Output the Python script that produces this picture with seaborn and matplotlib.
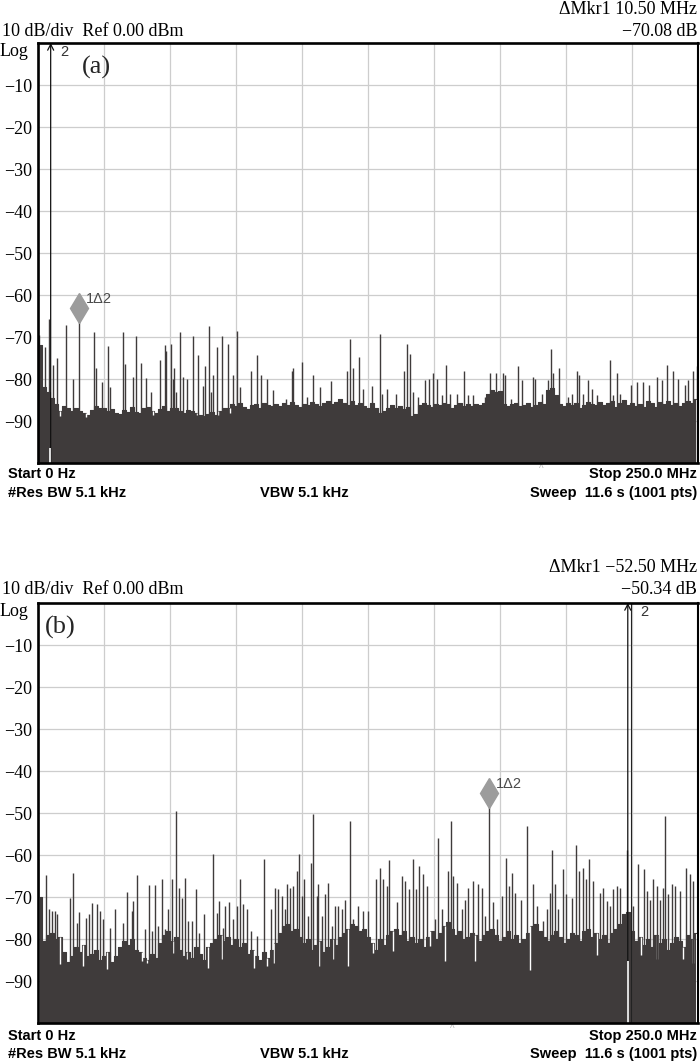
import numpy as np
import matplotlib
matplotlib.use("Agg")
import matplotlib.pyplot as plt
import seaborn as sns

# --- figure geometry (pixels of the 700x1061 output) ---
W, H = 700, 1061
SPAN_MHZ = 250.0
N_BINS = 165
BIN_W = SPAN_MHZ / N_BINS

TRACE = "#3f3b3b"
GRID = "#cdcdcd"
MARK = "#9c9c9c"

# ---------------- panel (a) data ----------------
floor_a = [
    -72, -82, -83, -84.5, -86, -87.5, -86.5, -87, -87.5, -86.8,
    -87.5, -88.2, -88.6, -87.3, -86.5, -87, -86.8, -87.6, -87.2, -88,
    -88.3, -87.4, -87.8, -86.6, -87.9, -88.2, -87, -86.7, -87.5, -88.1,
    -87.2, -86.5, -87.6, -87, -86.8, -87.5, -88, -87.3, -87.6, -88.2,
    -88.6, -88.9, -88.4, -87.8, -88.5, -87.5, -87, -86.8, -86, -86.5,
    -85.8, -86.6, -87.2, -86.3, -86, -86.8, -85.7, -86.2, -86.5, -85.9,
    -86.4, -85.8, -86.2, -85.5, -86.1, -86.6, -85.9, -86.3, -85.4, -86,
    -86.5, -85.7, -85.2, -86, -85.5, -84.8, -85.6, -86.1, -85.3, -86.2,
    -85.8, -86.5, -86.9, -85.7, -86.8, -88, -87.6, -86.8, -86.2, -87,
    -86.4, -87.1, -86.7, -88.9, -88.4, -86.3, -85.8, -86.2, -86.6, -85.9,
    -86.3, -85.6, -86, -86.8, -86.1, -85.7, -86.4, -85.9, -86.5, -86,
    -86.2, -85.8, -83.6, -82.5, -83.2, -82.8, -85.9, -86.4, -86, -85.7,
    -86.5, -86.1, -85.8, -86.6, -86.2, -85.5, -86, -82.6, -82.2, -83.8,
    -85.9, -86.4, -85.7, -86.3, -85.6, -86.9, -86.1, -85.4, -85.9, -86.2,
    -85.5, -86.3, -85.8, -85.2, -86.6, -85.7, -85.1, -86.2, -85.6, -86.4,
    -85.9, -86.6, -85.3, -85.8, -86.7, -85.4, -86, -85.2, -86.3, -85.7,
    -86.5, -85.8, -85.2, -85.6, -84.8,
]
spur_f_a = [
    0.3, 1.2, 2.65, 4.3, 5.6, 7.2, 10.5, 13.4, 15.6, 21.3, 22.0, 24.4, 26.6, 27.3,
    32.1, 33.1, 35.9, 37.0, 39.1, 40.8, 42.7, 46.1, 48.1, 48.5, 50.4, 51.0, 51.5,
    52.2, 53.8, 55.0, 56.3, 58.6, 60.7, 62.5, 63.4, 64.6, 65.4, 66.4, 67.8, 69.6,
    71.8, 74.0, 75.4, 76.5, 80.6, 82.8, 84.5, 86.6, 89.1, 93.8, 96.1, 96.7, 100.1,
    101.8, 104.3, 106.8, 111.0, 116.9, 118.2, 119.2, 121.6, 123.2, 126.5, 129.5,
    130.4, 132.1, 135.5, 138.8, 139.9, 141.0, 142.2, 144.1, 146.6, 148.2, 149.5,
    151.3, 152.9, 154.7, 156.1, 158.8, 161.5, 163.0, 164.9, 169.3, 171.2, 173.4,
    176.0, 176.9, 179.2, 181.9, 183.2, 187.4, 188.3, 190.8, 193.1, 194.2, 195.2,
    197.5, 200.6, 202.4, 204.0, 205.0, 206.6, 208.5, 209.7, 211.9, 216.7, 217.9,
    219.2, 220.5, 224.5, 226.8, 229.3, 231.6, 234.4, 236.5, 238.1, 240.4, 242.5,
    245.1, 246.3, 248.2, 249.5,
]
spur_db_a = [
    -69.5, -73.5, -72.4, -65.7, -76.6, -75, -67.2, -80, -65.9, -68.7, -77.4, -80.7,
    -72.2, -82, -68.9, -76.5, -79.5, -69.8, -76.2, -79.7, -83, -75.4, -71.9, -73.4,
    -71.6, -80, -77.4, -83, -68.9, -79.6, -80.1, -69.8, -74.4, -81.7, -77, -67.4,
    -83, -79, -72.4, -69.8, -71.6, -79, -68.5, -82, -78.2, -74.2, -79, -79.9,
    -82.7, -84.7, -78.2, -77.4, -76, -84.3, -79, -82, -80.4, -78.2, -70.5, -77.3,
    -74.8, -82.3, -81.7, -69.2, -83.5, -82.3, -83.5, -78.2, -71.6, -74, -83,
    -84.3, -80.3, -79.9, -78.5, -79.9, -83.9, -76.6, -83.5, -83.5, -78, -83.9,
    -83.9, -84.3, -78.6, -78.5, -78.5, -79, -84.7, -76.8, -80.3, -79.6, -80,
    -83.5, -80.3, -72.8, -78.6, -77.3, -84.3, -83.5, -78, -79, -83.5, -80.3,
    -82.3, -83.9, -75.4, -83.9, -78.6, -83.5, -81.5, -80.7, -80.7, -81.5, -79.6,
    -80.3, -76.6, -78, -79.9, -81.5, -80.3, -78.2, -76.8,
]
dip_f_a = [8.3, 18.1, 43.6, 60.1, 68.2, 72.7]
dip_db_a = [-88.8, -89.0, -88.6, -88.6, -88.6, -88.2]
carrier_f_a = [4.8]
notch_f_a = [4.5]
notch_db_a = [-96.5]
mkr1_f_a, mkr1_db_a = 15.6, -63.2
caret_f_a = 190.5

# ---------------- panel (b) data ----------------
floor_b = [
    -70, -80.5, -79, -78.5, -80, -79.5, -83, -85.5, -84, -82,
    -83, -81.5, -84, -83.5, -82.5, -85, -84, -83, -85.5, -84,
    -82, -80.5, -81.5, -80, -82.5, -83, -84.5, -85, -83.5, -84.5,
    -81, -79, -78, -80.5, -79.5, -82.5, -84, -83, -84.5, -82,
    -83.5, -85, -82, -81, -80, -79, -80.5, -79.5, -81.5, -80,
    -82, -81, -83.5, -82.5, -84, -85, -83, -84.5, -82.5, -81,
    -78.5, -77, -76.5, -78, -77.5, -79.5, -81, -80, -82.5, -81.5,
    -80.5, -83, -82, -80, -81.5, -79.5, -78.5, -77.5, -76.5, -77,
    -78, -77.5, -79.5, -81, -82.5, -80, -81.5, -79, -78, -77.5,
    -79, -78, -80.5, -79.5, -81, -80, -82, -79.5, -78, -80,
    -78.5, -77, -76, -77.5, -79, -78, -80, -79.5, -78.5, -79,
    -80.5, -79, -78, -77.5, -79, -80.5, -79.5, -78, -80, -79,
    -81, -80, -78.5, -77, -76.5, -78, -79.5, -80.5, -79, -78,
    -79.5, -81, -80, -78.5, -79, -80.5, -78, -77.5, -79.5, -78.5,
    -80, -79, -81, -78.5, -77.5, -76.5, -74, -73.5, -78, -80.5,
    -79.5, -81.5, -80, -82, -79, -81, -80, -82.5, -81, -79.5,
    -80.5, -82, -79, -80, -78.5,
]
spur_f_b = [
    0.1, 1.0, 2.9, 4.3, 5.2, 6.4, 7.3, 12.1, 13.4, 14.6, 15.7, 18.2, 19.3, 20.3,
    22.2, 23.5, 24.7, 27.3, 29.2, 32.3, 33.6, 35.5, 36.1, 37.4, 40.5, 42.0, 43.1,
    44.3, 45.6, 46.8, 48.1, 49.4, 50.6, 52.2, 53.4, 54.7, 55.7, 56.9, 58.2, 59.8,
    61.0, 62.9, 66.2, 67.7, 68.7, 70.0, 70.9, 72.5, 74.0, 75.3, 76.5, 77.8, 79.3,
    80.6, 82.8, 85.6, 88.1, 89.8, 91.0, 92.3, 93.6, 94.4, 95.5, 96.7, 98.0, 99.0,
    99.9, 100.8, 102.4, 103.3, 104.3, 105.6, 106.2, 107.5, 108.7, 110.0, 111.2,
    112.5, 113.7, 115.0, 116.3, 118.2, 119.4, 121.3, 123.2, 125.1, 128.0, 129.5,
    130.8, 132.1, 133.1, 135.9, 137.8, 139.0, 140.7, 141.9, 143.2, 144.4, 145.7,
    147.2, 150.4, 151.6, 152.9, 155.4, 156.4, 157.3, 158.6, 160.5, 161.7, 163.0,
    164.6, 166.8, 168.1, 169.3, 171.0, 172.2, 173.8, 175.6, 177.3, 178.5, 179.7,
    180.7, 182.8, 185.1, 187.6, 188.9, 191.4, 192.7, 193.9, 194.8, 195.8, 197.1,
    198.8, 200.0, 202.2, 203.8, 205.0, 206.3, 207.6, 208.8, 210.1, 212.9, 214.1,
    215.4, 216.7, 217.9, 219.2, 220.5, 223.0, 225.5, 227.4, 229.5, 230.6, 231.8,
    233.1, 234.4, 235.6, 236.6, 237.6, 238.8, 240.0, 241.3, 243.2, 245.5, 247.0,
    248.2,
]
spur_db_b = [
    -61.0, -71.2, -64.8, -72.9, -73.3, -73.3, -74.1, -70.2, -64.4, -76.1, -73.6,
    -74.9, -74.1, -71.5, -71.7, -73.3, -75.3, -77.3, -72.9, -76.1, -68.8, -73.3,
    -71.0, -64.8, -77.7, -67.2, -78.1, -67.2, -76.9, -65.8, -77.7, -72.9, -65.8,
    -49.5, -67.8, -70.2, -65.4, -75.7, -75.7, -68.0, -78.5, -74.1, -59.8, -73.7,
    -71.0, -77.3, -72.1, -71.3, -75.3, -72.1, -65.8, -71.7, -72.9, -78.1, -79.3,
    -61.0, -72.9, -67.8, -68.2, -69.8, -72.9, -67.0, -67.8, -67.4, -63.8, -59.8,
    -69.8, -65.8, -74.5, -62.0, -50.3, -69.8, -67.0, -74.5, -69.4, -66.6, -76.9,
    -72.1, -72.1, -72.9, -70.6, -51.9, -75.3, -72.1, -73.3, -73.3, -65.8, -63.0,
    -65.8, -67.4, -61.2, -71.3, -65.0, -66.2, -68.2, -61.0, -68.2, -62.5, -64.6,
    -67.4, -75.3, -55.9, -72.9, -63.8, -51.9, -65.0, -66.6, -72.9, -70.6, -67.8,
    -66.2, -67.0, -67.8, -74.5, -48.3, -71.3, -75.3, -69.8, -60.6, -67.4, -64.2,
    -69.0, -70.6, -53.1, -67.0, -72.1, -75.7, -72.9, -69.0, -58.8, -67.0, -72.9,
    -63.4, -69.4, -70.2, -57.5, -63.8, -63.0, -65.8, -61.0, -66.2, -69.0, -67.8,
    -71.0, -72.1, -68.2, -67.4, -67.8, -58.7, -72.1, -62.2, -63.4, -68.6, -70.6,
    -65.8, -67.4, -70.6, -67.8, -50.7, -69.4, -67.0, -67.4, -68.6, -63.0, -64.6,
    -66.2,
]
dip_f_b = [
    8.3, 17.2, 26.0, 39.3, 41.2, 51.3, 56.3, 64.5, 69.6, 81.8, 86.6, 89.4, 106.4,
    111.9, 117.5, 127.0, 134.6, 148.5, 154.2, 165.5, 186.4, 211.6, 228.4, 234.4,
    244.4, 248.2,
]
dip_db_b = [
    -86.0, -86.4, -87.2, -85.2, -85.6, -83.3, -84.8, -86.8, -84.8, -86.8, -86.4,
    -85.6, -86.4, -84.8, -86.4, -83.3, -82.9, -81.7, -85.2, -85.2, -87.4, -83.7,
    -83.7, -84.8, -84.8, -85.6,
]
carrier_f_b = [223.4, 224.5]
notch_f_b = [223.4]
notch_db_b = [-85.2]
mkr1_f_b, mkr1_db_b = 171.0, -45.2
caret_f_b = 156.8

assert len(floor_a) == N_BINS and len(floor_b) == N_BINS
assert len(spur_f_a) == len(spur_db_a) and len(spur_f_b) == len(spur_db_b)
assert len(dip_f_a) == len(dip_db_a) and len(dip_f_b) == len(dip_db_b)

# ---------------- style ----------------
sns.set_theme(style="white")
SERIF = ["Liberation Serif", "DejaVu Serif"]
SANS = ["Liberation Sans", "DejaVu Sans"]
plt.rcParams["font.family"] = SERIF

fig = plt.figure(figsize=(W / 100, H / 100), dpi=100)


def px_box(left, top, right, bottom):
    return [left / W, 1 - bottom / H, (right - left) / W, (bottom - top) / H]


def ftext(x, y, s, **kw):
    # place text using pixel coordinates of the output picture
    fig.text(x / W, 1 - y / H, s, **kw)


def draw_panel(ax, floor, spur_f, spur_db, dip_f, dip_db, carrier_f,
               notch_f, notch_db, mkr_f, mkr_db, caret_f, tag):
    floor = np.asarray(floor, dtype=float)
    centers = (np.arange(N_BINS) + 0.5) * BIN_W

    # noise floor
    ax.fill_between(centers, -100, floor, step="mid", color=TRACE, lw=0, zorder=2)
    sns.lineplot(x=centers, y=floor, drawstyle="steps-mid", color=TRACE,
                 lw=0.8, ax=ax, zorder=2)

    # downward gaps in the trace
    idx = np.clip((np.asarray(dip_f) / BIN_W).astype(int), 0, N_BINS - 1)
    ax.vlines(dip_f, dip_db, floor[idx], color="white", lw=1.0, zorder=3)

    # spurs
    ax.vlines(spur_f, -100, spur_db, color=TRACE, lw=1.0, zorder=4)

    # carrier (marker 2), off the top of the screen
    ax.annotate("", xy=(carrier_f[0], 0), xytext=(carrier_f[0], -100),
                arrowprops=dict(arrowstyle="->,head_length=0.35,head_width=0.18",
                                lw=0.9, color="#111111", shrinkA=0, shrinkB=0),
                zorder=5)
    if len(carrier_f) > 1:
        ax.vlines(carrier_f[1:], -100, 0, color="#222222", lw=0.8, zorder=5)
    ax.vlines(notch_f, -100, notch_db, color="white", lw=1.2, zorder=6)

    # delta marker 1
    ax.plot([mkr_f], [mkr_db], marker="d", ms=15, color=MARK, mec=MARK, zorder=7)
    ax.text(mkr_f + 2.6, mkr_db + 2.2, "1\u03942", fontsize=10.5, family=SANS,
            color="#4a4a4a", ha="left", va="center", zorder=7)
    ax.text(carrier_f[0] + (3.5 if tag == "a" else 4.6), -2.2, "2", fontsize=10.5,
            family=SANS, color="#333333", ha="left", va="center", zorder=7)

    # small caret below the screen
    ax.text(caret_f, -100.3, "^", fontsize=7, family=SANS, color="#b5b5b5",
            ha="center", va="top", clip_on=False)

    ax.set_xlim(0, SPAN_MHZ)
    ax.set_ylim(-100, 0)
    ax.set_xticks(np.arange(0, SPAN_MHZ + 1, 25))
    ax.set_xticklabels([])
    yt = np.arange(-90, 0, 10)
    ax.set_yticks(yt)
    ax.set_yticklabels(["\u2212%d" % abs(v) for v in yt])
    ax.tick_params(axis="both", length=0)
    ax.tick_params(axis="y", pad=4, labelsize=13)
    for lbl in ax.get_yticklabels():
        lbl.set_fontfamily(SERIF)
        lbl.set_color("black")
    ax.grid(True, color=GRID, lw=0.9, zorder=0)
    ax.set_axisbelow(True)
    for side, sp in ax.spines.items():
        sp.set_visible(True)
        sp.set_color("black")
        sp.set_linewidth(1.5 if side == "right" else 1.9)
        sp.set_zorder(8)
    ax.set_xlabel("")
    ax.set_ylabel("")


ax_a = fig.add_axes(px_box(38, 43, 698, 463))
ax_b = fig.add_axes(px_box(38, 603, 698, 1023))

draw_panel(ax_a, floor_a, spur_f_a, spur_db_a, dip_f_a, dip_db_a, carrier_f_a,
           notch_f_a, notch_db_a, mkr1_f_a, mkr1_db_a, caret_f_a, "a")
draw_panel(ax_b, floor_b, spur_f_b, spur_db_b, dip_f_b, dip_db_b, carrier_f_b,
           notch_f_b, notch_db_b, mkr1_f_b, mkr1_db_b, caret_f_b, "b")

# ---------------- screen annotations ----------------
SER = dict(family=SERIF, fontsize=13, color="black", va="center")
BOLD = dict(family=SANS, fontsize=10.5, fontweight="bold", color="black", va="center")

# panel (a)
ftext(697, 10, "\u0394Mkr1 10.50 MHz", ha="right", **SER)
ftext(697, 31, "\u221270.08 dB", ha="right", **SER)
ftext(2, 31, "10 dB/div  Ref 0.00 dBm", ha="left", **SER)
ftext(0, 52, "Log", ha="left", **SER)
ftext(82, 67, "(a)", ha="left", family=SERIF, fontsize=19, va="center")
ftext(8, 474, "Start 0 Hz", ha="left", **BOLD)
ftext(697, 474, "Stop 250.0 MHz", ha="right", **BOLD)
ftext(8, 493, "#Res BW 5.1 kHz", ha="left", **BOLD)
ftext(304, 493, "VBW 5.1 kHz", ha="center", **BOLD)
ftext(697, 493, "Sweep  11.6 s (1001 pts)", ha="right", **BOLD)

# panel (b)
ftext(697, 568, "\u0394Mkr1 \u221252.50 MHz", ha="right", **SER)
ftext(697, 590, "\u221250.34 dB", ha="right", **SER)
ftext(2, 590, "10 dB/div  Ref 0.00 dBm", ha="left", **SER)
ftext(0, 612, "Log", ha="left", **SER)
ftext(45, 627, "(b)", ha="left", family=SERIF, fontsize=19, va="center")
ftext(8, 1036, "Start 0 Hz", ha="left", **BOLD)
ftext(697, 1036, "Stop 250.0 MHz", ha="right", **BOLD)
ftext(8, 1054, "#Res BW 5.1 kHz", ha="left", **BOLD)
ftext(304, 1054, "VBW 5.1 kHz", ha="center", **BOLD)
ftext(697, 1054, "Sweep  11.6 s (1001 pts)", ha="right", **BOLD)

fig.savefig("out.png", dpi=100, facecolor="white")
plt.close(fig)
